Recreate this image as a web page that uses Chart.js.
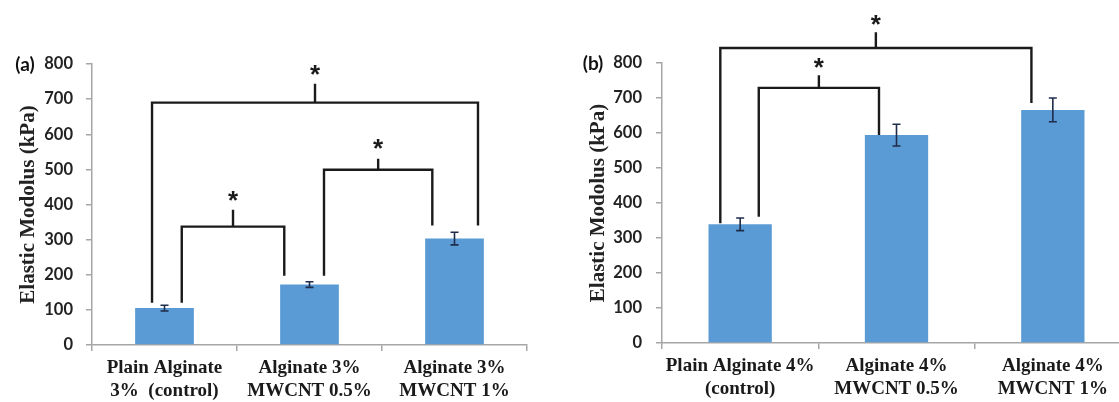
<!DOCTYPE html>
<html>
<head>
<meta charset="utf-8">
<script src="https://cdn.jsdelivr.net/npm/chart.js@4.4.1/dist/chart.umd.min.js"></script>
<style>
  html, body { margin: 0; padding: 0; background: #fff; overflow: hidden; width: 1119px; height: 402px; }
  .panel { position: absolute; top: 0; }
  #wrapA { left: 0; }
  #wrapB { left: 560px; }
</style>
</head>
<body>
<div class="panel" id="wrapA"><canvas id="chartA" width="545" height="402"></canvas></div>
<div class="panel" id="wrapB"><canvas id="chartB" width="580" height="402"></canvas></div>
<script>
// panel (a) - 3% alginate
var labelsA = [
  ['Plain Alginate', '3%  (control)'],
  ['Alginate 3%', 'MWCNT 0.5%'],
  ['Alginate 3%', 'MWCNT 1%']
];
var modulusA = [105, 172, 303];
var errorA = [8, 8, 18];

// panel (b) - 4% alginate
var labelsB = [
  ['Plain Alginate 4%', '(control)'],
  ['Alginate 4%', 'MWCNT 0.5%'],
  ['Alginate 4%', 'MWCNT 1%']
];
var modulusB = [339, 594, 666];
var errorB = [18, 31, 34];

var yTicks = [0, 100, 200, 300, 400, 500, 600, 700, 800];

// significance brackets, in category index / kPa units
var bracketsA = [
  { from: 0, to: 2, fromOff: -0.086, toOff: 0.162, top: 690, fromEnd: 120, toEnd: 340, tip: 744, star: 782 },
  { from: 0, to: 1, fromOff: 0.119, toOff: -0.174, top: 337, fromEnd: 120, toEnd: 197, tip: 385, star: 425 },
  { from: 1, to: 2, fromOff: 0.100, toOff: -0.153, top: 499, fromEnd: 197, toEnd: 340, tip: 530, star: 572 }
];
var bracketsB = [
  { from: 0, to: 2, fromOff: -0.127, toOff: -0.137, top: 843, fromEnd: 342, toEnd: 686, tip: 888, star: 924 },
  { from: 0, to: 1, fromOff: 0.119, toOff: -0.112, top: 729, fromEnd: 361, toEnd: 594, tip: 765, star: 800 }
];

var barBlue = '#5b9bd5';
var axisGrey = '#a6a6a6';

var extras = {
  id: 'extras',
  afterDatasetsDraw: function (chart, args, opts) {
    var ctx = chart.ctx;
    var x = chart.scales.x, y = chart.scales.y;
    var step = x.getPixelForValue(1) - x.getPixelForValue(0);
    var meta = chart.getDatasetMeta(0);
    ctx.save();
    // error bars
    ctx.strokeStyle = '#1f2d4a';
    ctx.lineWidth = 1.6;
    opts.values.forEach(function (v, i) {
      var px = meta.data[i].x;
      var hi = y.getPixelForValue(v + opts.errors[i]);
      var lo = y.getPixelForValue(v - opts.errors[i]);
      ctx.beginPath();
      ctx.moveTo(px, hi); ctx.lineTo(px, lo);
      ctx.moveTo(px - 4, hi); ctx.lineTo(px + 4, hi);
      ctx.moveTo(px - 4, lo); ctx.lineTo(px + 4, lo);
      ctx.stroke();
    });
    // brackets
    ctx.strokeStyle = '#1a1a1a';
    ctx.lineWidth = 2.4;
    ctx.lineCap = 'butt';
    ctx.lineJoin = 'miter';
    ctx.fillStyle = '#1a1a1a';
    ctx.font = 'bold 26px "Liberation Sans"';
    ctx.textAlign = 'center';
    ctx.textBaseline = 'middle';
    opts.brackets.forEach(function (b) {
      var x1 = x.getPixelForValue(b.from) + b.fromOff * step;
      var x2 = x.getPixelForValue(b.to) + b.toOff * step;
      var yt = y.getPixelForValue(b.top);
      var xm = (x1 + x2) / 2;
      ctx.beginPath();
      ctx.moveTo(x1, y.getPixelForValue(b.fromEnd));
      ctx.lineTo(x1, yt);
      ctx.lineTo(x2, yt);
      ctx.lineTo(x2, y.getPixelForValue(b.toEnd));
      ctx.moveTo(xm, yt);
      ctx.lineTo(xm, y.getPixelForValue(b.tip));
      ctx.stroke();
      ctx.fillText('*', xm, y.getPixelForValue(b.star) + 6);
    });
    // panel letter
    ctx.font = 'bold 19px Lato';
    ctx.fillStyle = '#111';
    ctx.textAlign = 'center';
    ctx.fillText(opts.letter, chart.chartArea.left - opts.letterDx, y.getPixelForValue(800) + 1);
    ctx.restore();
  }
};

function makeChart(id, labels, values, errors, brackets, letter, geo) {
  return new Chart(document.getElementById(id), {
    type: 'bar',
    data: {
      labels: labels,
      datasets: [{
        data: values,
        backgroundColor: barBlue,
        borderWidth: 0,
        categoryPercentage: 1,
        barPercentage: 0.405
      }]
    },
    options: {
      responsive: false,
      devicePixelRatio: 1,
      animation: false,
      layout: { padding: { top: geo.top, right: geo.right, left: 0, bottom: 0 } },
      plugins: {
        legend: { display: false },
        tooltip: { enabled: false },
        extras: { values: values, errors: errors, brackets: brackets, letter: letter, letterDx: geo.letterDx }
      },
      scales: {
        x: {
          grid: { display: true, drawOnChartArea: false, drawTicks: true, tickLength: 6, color: axisGrey, lineWidth: 1.5, offset: true },
          border: { display: true, color: axisGrey, width: 1.5 },
          ticks: {
            color: '#1a1a1a',
            font: { family: '"Liberation Serif"', weight: 'bold', size: 19, lineHeight: 1.18 },
            padding: 6,
            maxRotation: 0,
            minRotation: 0,
            autoSkip: false
          },
          afterFit: function (s) { s.height = geo.xh; }
        },
        y: {
          min: 0,
          max: 800,
          afterBuildTicks: function (s) { s.ticks = yTicks.map(function (v) { return { value: v }; }); },
          grid: { display: true, drawOnChartArea: false, drawTicks: true, tickLength: 6, color: axisGrey, lineWidth: 1.5 },
          border: { display: true, color: axisGrey, width: 1.5 },
          ticks: {
            color: '#222',
            font: { family: 'Lato', weight: 'bold', size: 16.5 },
            padding: geo.tickPad
          },
          title: {
            display: true,
            text: 'Elastic Modolus (kPa)',
            color: '#222',
            font: { family: '"Liberation Serif"', weight: 'bold', size: 21 },
            padding: { top: geo.titlePad, bottom: 0 }
          },
          afterFit: function (s) { s.width = geo.yw; }
        }
      }
    },
    plugins: [extras]
  });
}

makeChart('chartA', labelsA, modulusA, errorA, bracketsA, '(a)',
  { top: 64, right: 18, xh: 57, yw: 92, tickPad: 13, titlePad: 16, letterDx: 67 });
makeChart('chartB', labelsB, modulusB, errorB, bracketsB, '(b)',
  { top: 63, right: 9, xh: 59, yw: 102, tickPad: 14, titlePad: 26, letterDx: 69 });
</script>
</body>
</html>
